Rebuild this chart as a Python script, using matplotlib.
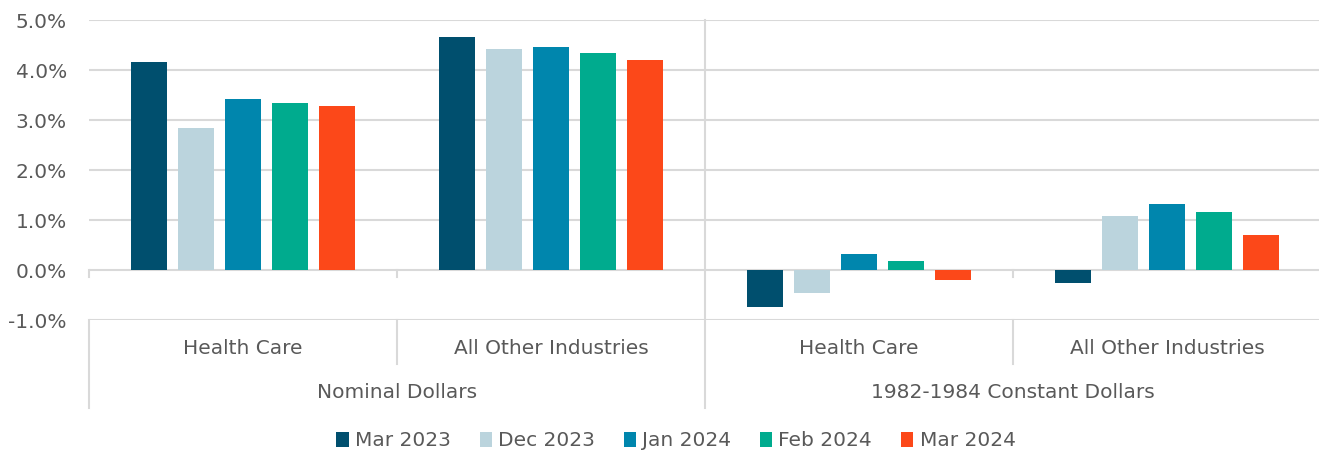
import matplotlib
matplotlib.use("Agg")
import matplotlib.pyplot as plt
import numpy as np
from matplotlib.ticker import FuncFormatter

plt.rcParams['font.family'] = ['DejaVu Sans']

groups = ["Health Care", "All Other Industries", "Health Care", "All Other Industries"]
supergroups = ["Nominal Dollars", "1982-1984 Constant Dollars"]
series = ["Mar 2023", "Dec 2023", "Jan 2024", "Feb 2024", "Mar 2024"]
mar2023 = [4.17, 4.67, -0.73, -0.26]
dec2023 = [2.85, 4.43, -0.45, 1.08]
jan2024 = [3.43, 4.46, 0.32, 1.32]
feb2024 = [3.35, 4.35, 0.18, 1.16]
mar2024 = [3.28, 4.21, -0.19, 0.71]
values = [mar2023, dec2023, jan2024, feb2024, mar2024]
colors = ["#004F6E", "#BBD4DD", "#0086AD", "#00AB8E", "#FC4819"]

W, H = 1319, 455
fig = plt.figure(figsize=(W/100, H/100), dpi=100)
ax = fig.add_axes([89/W, 1-320/H, (1321-89)/W, 300/H])

grid_c = "#D9D9D9"
text_c = "#595959"
fs = 14.5
x = np.arange(len(groups))
slot = 0.1526
bw = 0.12
for i, (s, v, c) in enumerate(zip(series, values, colors)):
    ax.bar(x + (i-2)*slot, v, width=bw, color=c, label=s, zorder=3)

ax.set_xlim(-0.5, 3.5)
ax.set_ylim(-1, 5)
ax.set_yticks(np.arange(-1, 5.01, 1))
ax.yaxis.set_major_formatter(FuncFormatter(lambda v, p: f"{v:.1f}%"))
ax.yaxis.grid(True, color=grid_c, linewidth=1.5, zorder=0)
ax.set_axisbelow(True)
for sp in ax.spines.values():
    sp.set_visible(False)
ax.tick_params(axis='y', length=0, labelsize=fs, labelcolor=text_c, pad=16)
ax.set_xticks([])

px = 1/50.0  # data units per pixel vertically
y_sep1 = -1 - 44*px
y_sep2 = -1 - 88*px
lw = 1.5
ax.plot([1.5, 1.5], [5, y_sep2], color=grid_c, lw=lw, clip_on=False, zorder=1)
ax.plot([-0.5, -0.5], [-1, y_sep2], color=grid_c, lw=lw, clip_on=False, zorder=1)
for xv in [0.5, 2.5]:
    ax.plot([xv, xv], [-1, y_sep1], color=grid_c, lw=lw, clip_on=False, zorder=1)
for xv in [-0.5, 0.5, 2.5]:
    ax.plot([xv, xv], [0, -7*px], color=grid_c, lw=lw, clip_on=False, zorder=1)

for xi, g in zip(x, groups):
    ax.text(xi, -1 - 29*px, g, ha='center', va='center', fontsize=fs, color=text_c, clip_on=False)
for j, sg in enumerate(supergroups):
    ax.text(0.5 + 2*j, -1 - 73*px, sg, ha='center', va='center', fontsize=fs, color=text_c, clip_on=False)

leg = fig.legend(loc='center', bbox_to_anchor=(676/W, 1-441/H), ncol=5, frameon=False,
                 fontsize=fs, handlelength=0.6, handleheight=0.7, handletextpad=0.3,
                 columnspacing=1.45, labelcolor=text_c)

fig.savefig("out.png", dpi=100)
